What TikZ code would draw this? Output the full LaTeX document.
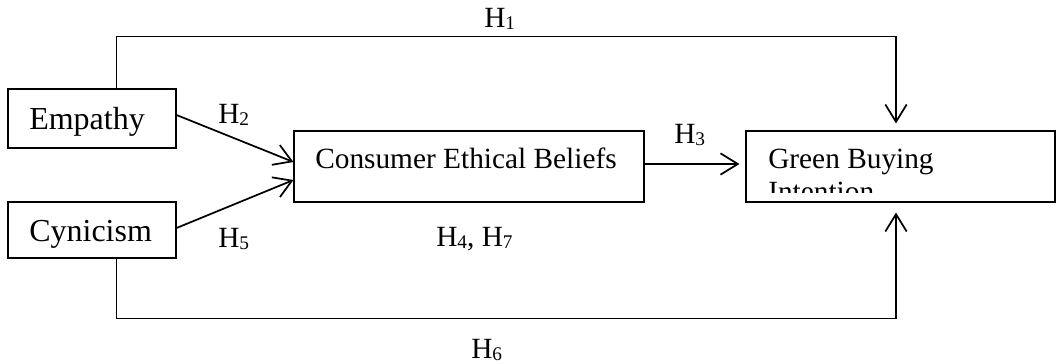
\documentclass[tikz,border=0pt]{standalone}
\usepackage{fontspec}
\setmainfont{Liberation Serif}
\usetikzlibrary{arrows.meta,calc}

\tikzset{
  box/.style={draw, rectangle, line width=0.8pt, inner sep=0pt},
  lbl/.style={anchor=base west, inner sep=0pt, font=\fontsize{22}{24.5}\selectfont},
  biglbl/.style={lbl, font=\fontsize{24}{26}\selectfont},
  link/.style={line width=1.3pt, -{Straight Barb[length=13pt,width=16pt,line width=1.3pt]}},
}
\newcommand{\hyp}[1]{H\raisebox{-1.8pt}{\fontsize{14.5}{14.5}\selectfont #1}}

\begin{document}
\begin{tikzpicture}[x=0.75pt,y=0.75pt,yscale=-1,xscale=1]
\useasboundingbox (0,0) rectangle (1057,364);

%Shape: Rectangles
\node[box, minimum width=126pt, minimum height=44.25pt] (emp) at (92,118.5) {};
\node[box, minimum width=126pt, minimum height=42pt] (cyn) at (92,230) {};
\node[box, minimum width=262.5pt, minimum height=53.25pt] (ceb) at (469,166.5) {};
\node[box, minimum width=231.75pt, minimum height=53.25pt] (gbi) at (900.5,166.5) {};

% Text Node
\node[biglbl] (empT) at (29,129) {Empathy};
% Text Node
\node[biglbl] (cynT) at (29,241) {Cynicism};
% Text Node
\node[lbl] (cebT) at (315,168) {Consumer Ethical Beliefs};
% Text Node (cut by the box)
\begin{scope}
\clip (gbi.north west) rectangle ($(gbi.south east)+(0,-10)$);
\node[lbl] (gbiT) at (768,168) {Green Buying};
\node[lbl] (gbiT2) at (768,201) {Intention};
\end{scope}

%Straight Lines
\draw[link] ($(emp.north west)+(109,0)$) -- ++(0,-52) -| ($(gbi.north)+(-4.5,-7)$);
%Straight Lines
\draw[link] ($(cyn.south west)+(109,0)$) -- ++(0,60) -| ($(gbi.south)+(-4.5,10)$);
%Straight Lines
\draw[link] ($(emp.east)+(0,-3.5)$) -- ($(ceb.west)+(0,-4.5)$);
%Straight Lines
\draw[link] ($(cyn.east)+(0,-2)$) -- ($(ceb.west)+(0,13.5)$);
%Straight Lines
\draw[link] ($(ceb.east)+(0,-2.5)$) -- ($(gbi.west)+(-6,-2.5)$);

% Text Node
\node[lbl] (h1) at (484,27.5) {\hyp{1}};
% Text Node
\node[lbl] (h2) at (218,123) {\hyp{2}};
% Text Node
\node[lbl] (h3) at (674,143) {\hyp{3}};
% Text Node
\node[lbl] (h4) at (436,246) {\hyp{4}, \hyp{7}};
% Text Node
\node[lbl] (h5) at (218,247) {\hyp{5}};
% Text Node
\node[lbl] (h6) at (471,358) {\hyp{6}};

\end{tikzpicture}
\end{document}
